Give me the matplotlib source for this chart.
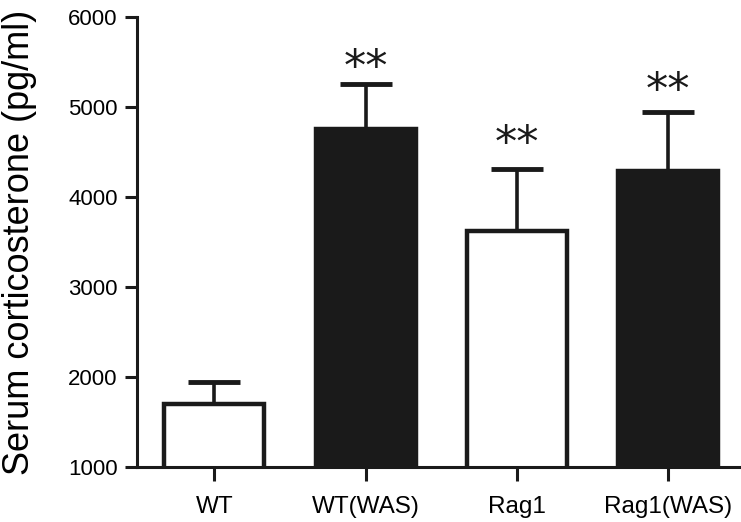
# Serum corticosterone bar chart (WT / Rag1, with and without WAS).

import numpy as np
import matplotlib
matplotlib.use('Agg')
import matplotlib.pyplot as plt

plt.rcParams['font.family'] = ['Liberation Sans', 'DejaVu Sans']

# Group labels, means and upper error (SEM) in pg/ml.
groups = ['WT', 'WT(WAS)', 'Rag1', 'Rag1(WAS)']
means = [1700, 4760, 3620, 4290]
errors = [242, 497, 695, 660]
fills = ['white', '#1a1a1a', 'white', '#1a1a1a']
# Significance marks and the height they sit at.
marks = ['', '**', '**', '**']
mark_y = [0, 5430, 4590, 5170]

ink = '#1a1a1a'
fig = plt.figure(figsize=(7.41, 5.22), dpi=100)
ax = fig.add_axes([0.185, 0.105, 0.815, 0.862])

x = np.arange(len(groups))
ax.bar(x, means, width=0.66, color=fills, edgecolor=ink, linewidth=3.2, zorder=2)
ax.errorbar(x, means, yerr=[np.zeros(len(errors)), errors], fmt='none',
            ecolor=ink, elinewidth=2.6, capsize=19, capthick=3.5, zorder=1)

for xi, m, y in zip(x, marks, mark_y):
    if m:
        ax.text(xi, y, m, ha='center', va='center', fontsize=32, color=ink,
                family='DejaVu Sans')

ax.set_xlim(-0.51, 3.48)
ax.set_ylim(1000, 6000)
ax.set_yticks(np.arange(1000, 6001, 1000))
ax.set_xticks(x)
ax.set_xticklabels(groups, fontsize=17.5)
ax.tick_params(axis='y', labelsize=16, length=9, width=2.2, color=ink, pad=5)
ax.tick_params(axis='x', length=10, width=2.2, color=ink, pad=11)

for side in ['top', 'right']:
    ax.spines[side].set_visible(False)
for side in ['left', 'bottom']:
    ax.spines[side].set_linewidth(2.2)
    ax.spines[side].set_color(ink)

ax.set_ylabel('Serum corticosterone (pg/ml)', fontsize=26)
ax.yaxis.set_label_coords(-0.165, 0.5)

fig.savefig('out.png', dpi=100)
